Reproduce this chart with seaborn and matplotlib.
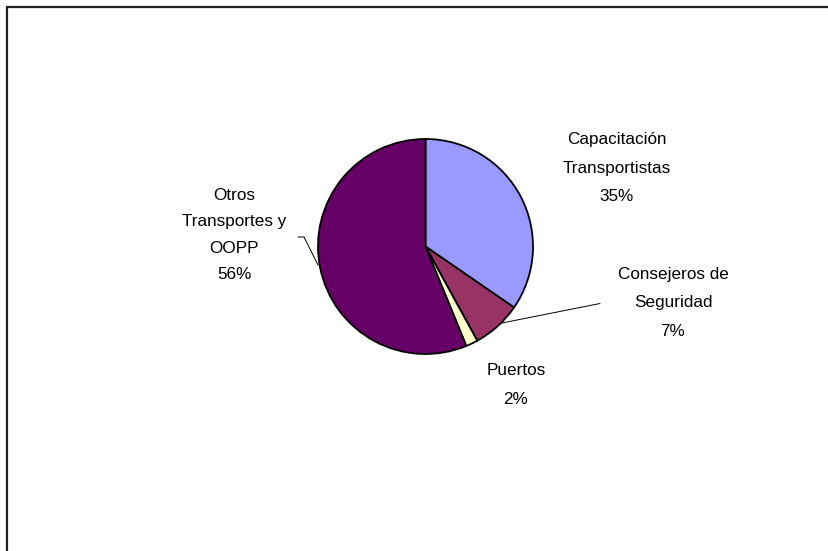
import matplotlib
matplotlib.use("Agg")
import matplotlib.pyplot as plt
import seaborn as sns
from matplotlib.lines import Line2D

# ---- data ----
categories = ["Capacitación\nTransportistas", "Consejeros de\nSeguridad", "Puertos",
              "Otros\nTransportes y\nOOPP"]
values = [34.6, 7.4, 1.8, 56.2]
pct_labels = ["35%", "7%", "2%", "56%"]
colors = ["#9999FF", "#993366", "#FFFFCC", "#660066"]

sns.set_theme(style="white")
plt.rcParams["font.family"] = ["Liberation Sans", "DejaVu Sans"]

W, H = 829, 551
fig = plt.figure(figsize=(W / 100, H / 100), dpi=100)
ax = fig.add_axes([0, 0, 1, 1])

def Y(y):  # convert pixel y (top-down) to data y
    return H - y

cx, cy, r = 425.5, 246.5, 107.5
ax.pie(values, colors=sns.color_palette(colors), startangle=90, counterclock=False,
       center=(cx, Y(cy)), radius=r,
       wedgeprops=dict(edgecolor="black", linewidth=1.3))
ax.set_xlim(0, W)
ax.set_ylim(0, H)
ax.set_aspect("equal")
ax.axis("off")

# label positions (pixel coords of block centres)
label_pos = [(617, 168), (673, 303), (516, 385), (234, 235)]
spacing = [2.15, 2.15, 2.15, 1.95]
for cat, pct, (lx, ly), ls in zip(categories, pct_labels, label_pos, spacing):
    ax.text(lx, Y(ly), f"{cat}\n{pct}", ha="center", va="center",
            fontsize=12.3, color="black", linespacing=ls)

# leader lines
ax.add_line(Line2D([298, 304, 318], [Y(237), Y(237), Y(265)], color="black", lw=0.7))
ax.add_line(Line2D([600, 502], [Y(303.5), Y(323)], color="black", lw=0.7))

# frame (left and top edges visible)
ax.add_line(Line2D([7, 7], [Y(551), Y(6.5)], color="#222222", lw=1.6, solid_capstyle="butt"))
ax.add_line(Line2D([6.2, 829], [Y(6.5), Y(6.5)], color="#222222", lw=1.6, solid_capstyle="butt"))

fig.savefig("out.png", dpi=100, facecolor="white")
